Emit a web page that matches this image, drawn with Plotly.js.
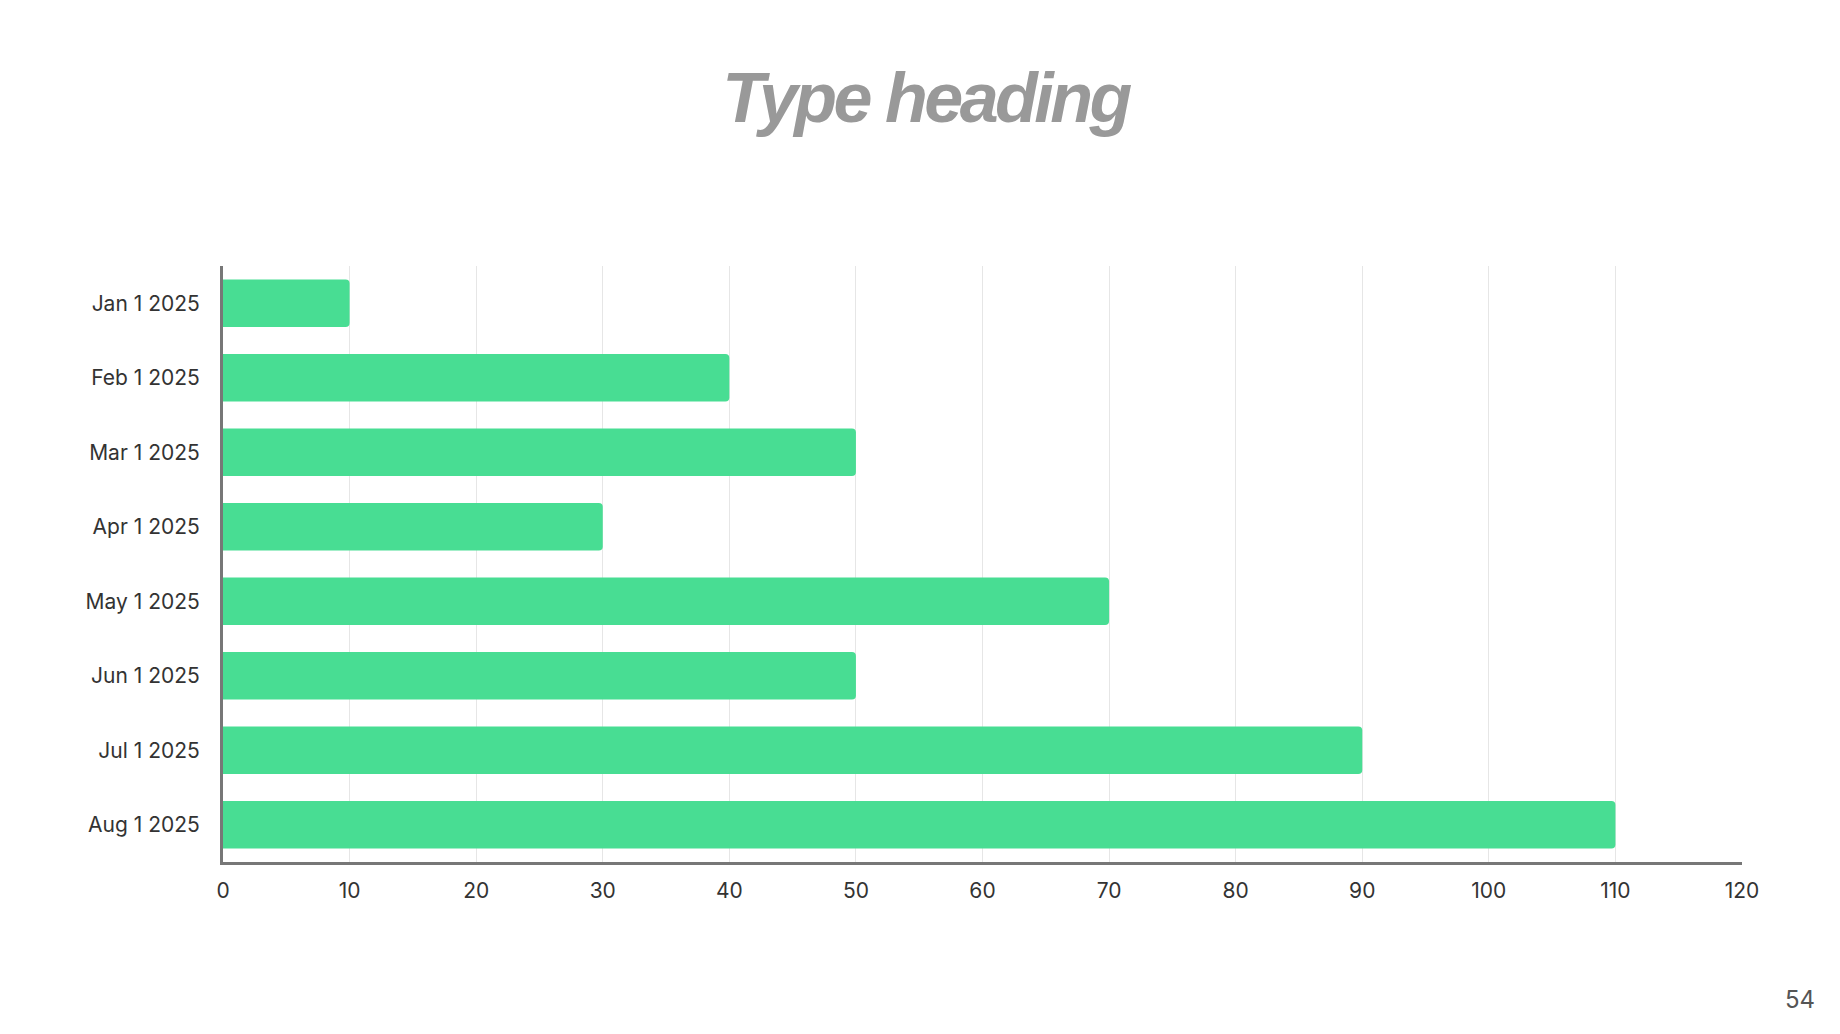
<!DOCTYPE html>
<html>
<head>
<meta charset="utf-8">
<script src="https://cdn.plot.ly/plotly-3.0.1.min.js"></script>
<style>
  html, body { margin: 0; padding: 0; background: #fff; }
  #chart { width: 1840px; height: 1034px; }
  .gtitle { letter-spacing: -3.5px; }
</style>
</head>
<body>
<div id="chart"></div>
<script>
/* monthly values, horizontal bars */
const months = ['Jan 1 2025', 'Feb 1 2025', 'Mar 1 2025', 'Apr 1 2025',
                'May 1 2025', 'Jun 1 2025', 'Jul 1 2025', 'Aug 1 2025'];
const values = [10, 40, 50, 30, 70, 50, 90, 110];
const xTicks = [0, 10, 20, 30, 40, 50, 60, 70, 80, 90, 100, 110, 120];

const trace = {
    type: 'bar',
    orientation: 'h',
    x: values,
    y: months,
    marker: { color: '#48DD93' },
    hoverinfo: 'x+y',
};

const layout = {
    width: 1840,
    height: 1034,
    paper_bgcolor: '#ffffff',
    plot_bgcolor: '#ffffff',
    margin: { l: 223, r: 98, t: 266, b: 172 },
    showlegend: false,
    bargap: 0.36,
    barcornerradius: 4,
    font: { family: 'Inter, "Noto Sans", sans-serif', color: '#333333' },
    title: {
        text: '<b><i>Type heading</i></b>',
        font: { family: '"Liberation Sans", Arial, sans-serif', size: 70, color: '#999999' },
        xref: 'container', yref: 'container',
        x: 0.503, xanchor: 'center',
        y: 0.906, yanchor: 'middle',
    },
    xaxis: {
        range: [0, 120],
        tickvals: xTicks,
        ticktext: xTicks.map(String),
        showgrid: true,
        gridcolor: '#e6e6e6',
        gridwidth: 1,
        zeroline: false,
        showline: true,
        linecolor: '#777777',
        linewidth: 3,
        ticks: '',
        ticklabelstandoff: 8,
        tickfont: { size: 21, color: '#333333' },
        fixedrange: true,
    },
    yaxis: {
        type: 'category',
        autorange: 'reversed',
        showgrid: false,
        zeroline: false,
        showline: true,
        linecolor: '#777777',
        linewidth: 3,
        ticks: '',
        ticklabelstandoff: 16,
        tickfont: { size: 21, color: '#333333' },
        fixedrange: true,
    },
    annotations: [{
        text: '54',
        xref: 'paper', yref: 'paper',
        x: 1.038, y: -0.23,
        xanchor: 'center', yanchor: 'middle',
        showarrow: false,
        font: { size: 24, color: '#555555' },
    }],
};

Plotly.newPlot('chart', [trace], layout, { displayModeBar: false, staticPlot: true });
</script>
</body>
</html>
